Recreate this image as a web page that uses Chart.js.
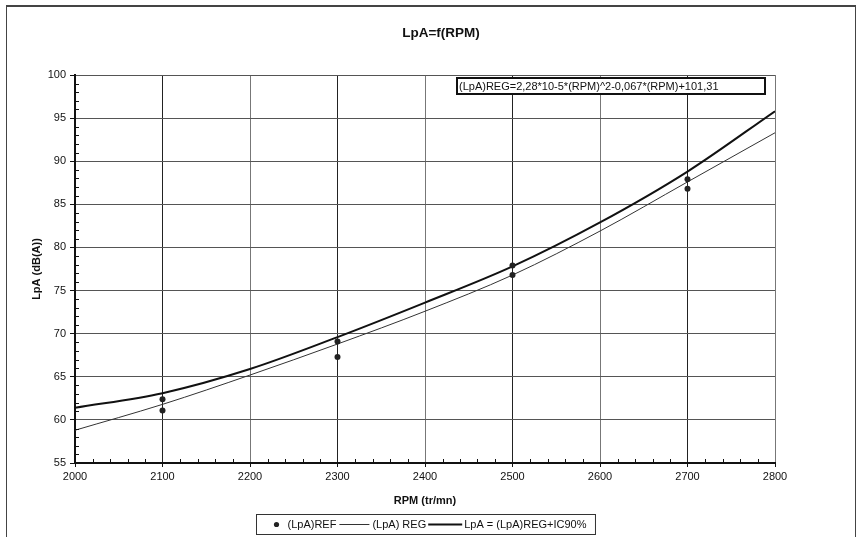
<!DOCTYPE html>
<html>
<head>
<meta charset="utf-8">
<title>LpA=f(RPM)</title>
<script src="https://cdn.jsdelivr.net/npm/chart.js@4.4.1/dist/chart.umd.min.js"></script>
<style>
    html, body { margin: 0; padding: 0; background: #fff; }
    #frame {
        position: absolute; left: 6px; top: 5px;
        width: 848px; height: 545px;
        border: 1px solid #444; border-top-width: 2px;
    }
    canvas { position: absolute; left: 0; top: 0; }
</style>
</head>
<body>
<div id="frame"></div>
<canvas id="chart" width="858" height="537"></canvas>
<script>
// mesures de référence
const rpmRef = [2100, 2100, 2300, 2300, 2500, 2500, 2700, 2700];
const lpaRef = [62.4, 61.1, 69.1, 67.3, 77.9, 76.8, 87.9, 86.8];

// courbes
const rpmCurve = [2000, 2100, 2200, 2300, 2400, 2500, 2600, 2700, 2800];
const lpaReg = [58.8, 61.8, 65.2, 68.8, 72.6, 76.8, 81.9, 87.6, 93.3];
const lpaIc90 = [61.4, 63.1, 65.9, 69.6, 73.6, 77.8, 82.9, 88.8, 95.8];

const xTicks = [2000, 2100, 2200, 2300, 2400, 2500, 2600, 2700, 2800];
const yTicks = [55, 60, 65, 70, 75, 80, 85, 90, 95, 100];

const chartTitle = 'LpA=f(RPM)';
const regLabel = '(LpA)REG=2,28*10-5*(RPM)^2-0,067*(RPM)+101,31';
const legendLabels = ['(LpA)REF', '(LpA) REG', 'LpA = (LpA)REG+IC90%'];

const FONT = '"Liberation Sans", Arial, sans-serif';

function toPoints(xs, ys) {
    return xs.map((x, i) => ({ x: x, y: ys[i] }));
}

// titre du graphique
const chartHeading = {
    id: 'chartHeading',
    afterDraw(chart) {
        const ctx = chart.ctx;
        const a = chart.chartArea;
        ctx.save();
        ctx.font = 'bold 13.5px ' + FONT;
        ctx.fillStyle = '#111';
        ctx.textAlign = 'center';
        ctx.textBaseline = 'middle';
        ctx.fillText(chartTitle, (a.left + a.right) / 2 + 16, 33);
        ctx.restore();
    }
};

// petites graduations intérieures
const minorTicks = {
    id: 'minorTicks',
    afterDatasetsDraw(chart) {
        const ctx = chart.ctx;
        const x = chart.scales.x, y = chart.scales.y;
        const a = chart.chartArea;
        ctx.save();
        ctx.strokeStyle = '#111';
        ctx.lineWidth = 1;
        ctx.beginPath();
        for (let v = 56; v < 100; v++) {
            if (v % 5 === 0) continue;
            const py = Math.round(y.getPixelForValue(v)) + 0.5;
            ctx.moveTo(a.left, py);
            ctx.lineTo(a.left + 4, py);
        }
        for (let v = 2020; v < 2800; v += 20) {
            if (v % 100 === 0) continue;
            const px = Math.round(x.getPixelForValue(v)) + 0.5;
            ctx.moveTo(px, a.bottom);
            ctx.lineTo(px, a.bottom - 4);
        }
        ctx.stroke();
        ctx.restore();
    }
};

// cadre avec l'équation de la régression
const equationBox = {
    id: 'equationBox',
    afterDraw(chart) {
        const ctx = chart.ctx;
        const a = chart.chartArea;
        ctx.save();
        ctx.font = '11px ' + FONT;
        const w = ctx.measureText(regLabel).width;
        const left = a.right - 318, top = a.top + 3;
        const boxW = Math.max(w + 6, 308);
        ctx.fillStyle = '#fff';
        ctx.fillRect(left, top, boxW, 16);
        ctx.strokeStyle = '#111';
        ctx.lineWidth = 2;
        ctx.strokeRect(left, top, boxW, 16);
        ctx.fillStyle = '#111';
        ctx.textBaseline = 'middle';
        ctx.fillText(regLabel, left + 2, top + 8.5);
        ctx.restore();
    }
};

// légende encadrée sous l'axe des x
const boxedLegend = {
    id: 'boxedLegend',
    afterDraw(chart) {
        const ctx = chart.ctx;
        const a = chart.chartArea;
        const ds = chart.data.datasets;
        ctx.save();
        ctx.font = '11px ' + FONT;
        const tw = legendLabels.map(t => ctx.measureText(t).width);
        const total = 20 + 11 + tw[0] + 3 + 30 + 3 + tw[1] + 2 + 34 + 2 + tw[2] + 9;
        const left = Math.round((a.left + a.right) / 2 - total / 2) + 0.5;
        const top = 514.5, h = 20, cy = top + h / 2;
        ctx.strokeStyle = '#333';
        ctx.lineWidth = 1;
        ctx.strokeRect(left, top, total, h);

        let cx = left + 20;
        ctx.fillStyle = ds[0].backgroundColor;
        ctx.beginPath();
        ctx.arc(cx, cy, 2.6, 0, Math.PI * 2);
        ctx.fill();
        cx += 11;
        ctx.fillStyle = '#111';
        ctx.textBaseline = 'middle';
        ctx.fillText(legendLabels[0], cx, cy);
        cx += tw[0] + 3;

        ctx.strokeStyle = ds[1].borderColor;
        ctx.lineWidth = ds[1].borderWidth;
        ctx.beginPath();
        ctx.moveTo(cx, cy); ctx.lineTo(cx + 30, cy);
        ctx.stroke();
        cx += 33;
        ctx.fillText(legendLabels[1], cx, cy);
        cx += tw[1] + 2;

        ctx.strokeStyle = ds[2].borderColor;
        ctx.lineWidth = ds[2].borderWidth;
        ctx.beginPath();
        ctx.moveTo(cx, cy); ctx.lineTo(cx + 34, cy);
        ctx.stroke();
        cx += 36;
        ctx.fillText(legendLabels[2], cx, cy);
        ctx.restore();
    }
};

const ctx = document.getElementById('chart').getContext('2d');

new Chart(ctx, {
    type: 'line',
    data: {
        datasets: [{
            label: legendLabels[0],
            data: toPoints(rpmRef, lpaRef),
            showLine: false,
            pointRadius: 3,
            pointHoverRadius: 3,
            backgroundColor: '#222',
            borderColor: '#222',
            borderWidth: 0,
            order: 0
        }, {
            label: legendLabels[1],
            data: toPoints(rpmCurve, lpaReg),
            borderColor: '#333',
            borderWidth: 1,
            pointRadius: 0,
            cubicInterpolationMode: 'monotone',
            fill: false,
            order: 2
        }, {
            label: legendLabels[2],
            data: toPoints(rpmCurve, lpaIc90),
            borderColor: '#111',
            borderWidth: 2,
            pointRadius: 0,
            cubicInterpolationMode: 'monotone',
            fill: false,
            order: 1
        }]
    },
    options: {
        responsive: false,
        animation: false,
        events: [],
        layout: {
            padding: { left: 30, right: 83, top: 75, bottom: 29 }
        },
        plugins: {
            legend: { display: false },
            tooltip: { enabled: false },
            title: { display: false }
        },
        scales: {
            x: {
                type: 'linear',
                min: 2000,
                max: 2800,
                afterBuildTicks: s => { s.ticks = xTicks.map(v => ({ value: v })); },
                afterFit: s => { s.height = 45; },
                ticks: {
                    color: '#111',
                    padding: 3,
                    maxRotation: 0,
                    font: { family: FONT, size: 11 },
                    callback: v => String(v)
                },
                grid: {
                    color: c => (c.tick && c.tick.value % 200 === 100) ? '#222' : '#777',
                    tickColor: '#111',
                    tickLength: 4,
                    lineWidth: 1
                },
                border: { display: true, color: '#111', width: 2 },
                title: {
                    display: true,
                    text: 'RPM (tr/mn)',
                    color: '#111',
                    font: { family: FONT, size: 11, weight: 'bold' },
                    padding: { top: 6, bottom: 0 }
                }
            },
            y: {
                type: 'linear',
                min: 55,
                max: 100,
                afterBuildTicks: s => { s.ticks = yTicks.map(v => ({ value: v })); },
                afterFit: s => { s.width = 45; },
                ticks: {
                    color: '#111',
                    padding: 4,
                    font: { family: FONT, size: 11 },
                    callback: v => String(v)
                },
                grid: {
                    color: '#555',
                    tickColor: '#111',
                    tickLength: 5,
                    lineWidth: 1
                },
                border: { display: true, color: '#111', width: 2 },
                title: {
                    display: true,
                    text: 'LpA (dB(A))',
                    color: '#111',
                    font: { family: FONT, size: 11, weight: 'bold' },
                    padding: { top: 0, bottom: 4 }
                }
            }
        }
    },
    plugins: [chartHeading, minorTicks, equationBox, boxedLegend]
});
</script>
</body>
</html>
